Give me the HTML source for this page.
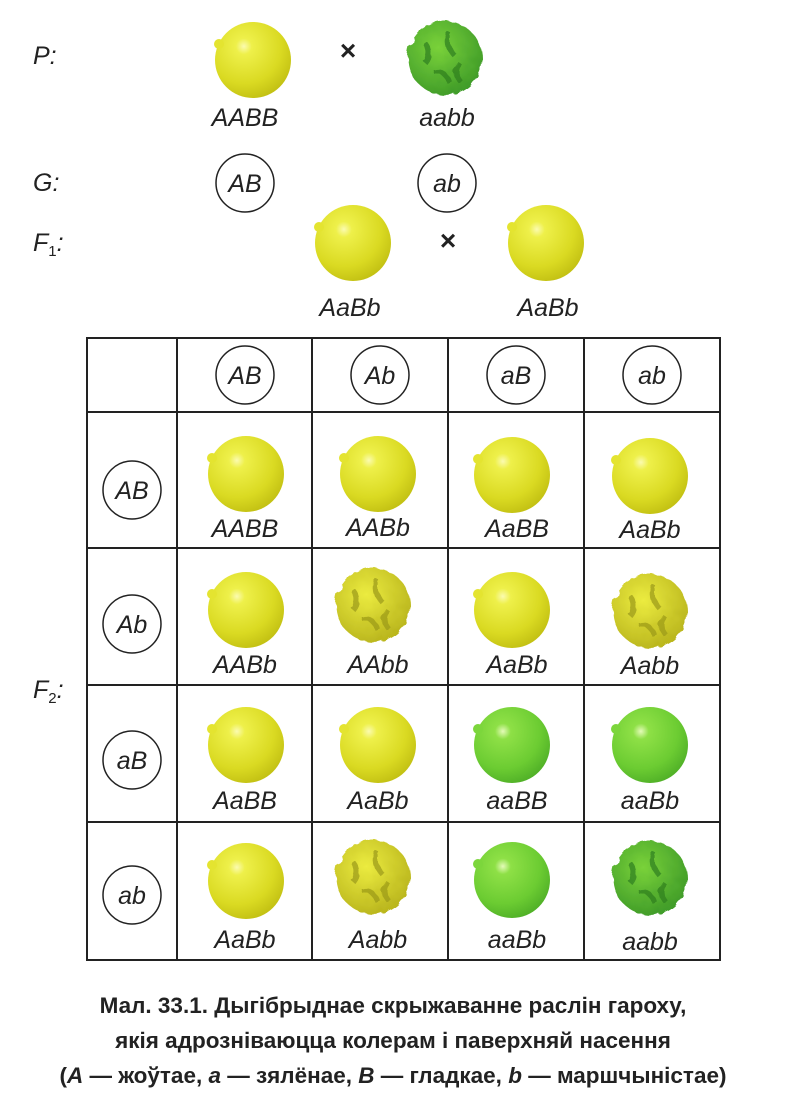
<!DOCTYPE html>
<html><head><meta charset="utf-8"><style>
html,body{margin:0;padding:0;background:#fff;}
svg{display:block}
text{font-family:"Liberation Sans",sans-serif;}
.l{font-style:italic;font-size:25px;fill:#222;text-anchor:middle}
.cap{font-family:"Liberation Sans Narrow","Liberation Sans",sans-serif;font-weight:bold;font-size:22.5px;fill:#222;text-anchor:middle}
</style></head><body>
<svg width="786" height="1109" viewBox="0 0 786 1109" xmlns="http://www.w3.org/2000/svg">
<defs>
<radialGradient id="ys" cx="0.38" cy="0.32" r="0.7">
<stop offset="0" stop-color="#fbfbb0"/><stop offset="0.15" stop-color="#eef04a"/><stop offset="0.7" stop-color="#dada22"/><stop offset="1" stop-color="#c4c214"/></radialGradient>
<radialGradient id="gs" cx="0.38" cy="0.32" r="0.7">
<stop offset="0" stop-color="#e4fbb8"/><stop offset="0.15" stop-color="#8ee046"/><stop offset="0.7" stop-color="#6ccc32"/><stop offset="1" stop-color="#52b228"/></radialGradient>
<radialGradient id="yw" cx="0.4" cy="0.35" r="0.7">
<stop offset="0" stop-color="#ecec40"/><stop offset="1" stop-color="#b8b41c"/></radialGradient>
<radialGradient id="gw" cx="0.4" cy="0.35" r="0.7">
<stop offset="0" stop-color="#7ad23a"/><stop offset="1" stop-color="#3e9a28"/></radialGradient>
<filter id="wr" x="-20%" y="-20%" width="140%" height="140%">
<feTurbulence type="fractalNoise" baseFrequency="0.09" numOctaves="2" seed="3" result="n"/>
<feDisplacementMap in="SourceGraphic" in2="n" scale="7"/>
</filter>
<g id="Y"><circle r="38" fill="url(#ys)"/><circle cx="-34" cy="-16" r="5" fill="#e4e430"/></g>
<g id="G"><circle r="38" fill="url(#gs)"/><circle cx="-34" cy="-16" r="5" fill="#7cd63c"/></g>
<g id="YW"><g filter="url(#wr)"><circle r="37" fill="url(#yw)"/><path d="M-20 -15 q8 10 0 20 M5 -25 q-6 12 4 22 M15 5 q-8 10 2 20 M-10 15 q10 -3 15 10" stroke="#9a9818" stroke-width="5" fill="none" opacity="0.7"/></g></g>
<g id="GW"><g filter="url(#wr)"><circle r="37" fill="url(#gw)"/><path d="M-20 -15 q8 10 0 20 M5 -25 q-6 12 4 22 M15 5 q-8 10 2 20 M-10 15 q10 -3 15 10" stroke="#2e7e20" stroke-width="5" fill="none" opacity="0.7"/></g></g>
</defs>

<text x="33" y="64" class="l" style="text-anchor:start">P:</text>
<use href="#Y" x="253" y="60"/>
<text x="348" y="60" font-size="28" font-weight="bold" text-anchor="middle" fill="#222">×</text>
<use href="#GW" x="445" y="58"/>
<text x="245" y="126" class="l">AABB</text>
<text x="447" y="126" class="l">aabb</text>

<text x="33" y="191" class="l" style="text-anchor:start">G:</text>
<circle cx="245" cy="183" r="29" fill="none" stroke="#222" stroke-width="1.5"/>
<text x="245" y="192" class="l">AB</text>
<circle cx="447" cy="183" r="29" fill="none" stroke="#222" stroke-width="1.5"/>
<text x="447" y="192" class="l">ab</text>

<text x="33" y="251" class="l" style="text-anchor:start">F<tspan font-size="15" dy="5" font-style="normal">1</tspan><tspan dy="-5">:</tspan></text>
<use href="#Y" x="353" y="243"/>
<text x="448" y="250" font-size="28" font-weight="bold" text-anchor="middle" fill="#222">×</text>
<use href="#Y" x="546" y="243"/>
<text x="350" y="316" class="l">AaBb</text>
<text x="548" y="316" class="l">AaBb</text>

<text x="33" y="698" class="l" style="text-anchor:start">F<tspan font-size="15" dy="5" font-style="normal">2</tspan><tspan dy="-5">:</tspan></text>

<g stroke="#222" stroke-width="2" fill="none">
<rect x="87" y="338" width="633" height="622"/>
<line x1="177" y1="338" x2="177" y2="960"/>
<line x1="312" y1="338" x2="312" y2="960"/>
<line x1="448" y1="338" x2="448" y2="960"/>
<line x1="584" y1="338" x2="584" y2="960"/>
<line x1="87" y1="412" x2="720" y2="412"/>
<line x1="87" y1="548" x2="720" y2="548"/>
<line x1="87" y1="685" x2="720" y2="685"/>
<line x1="87" y1="822" x2="720" y2="822"/>
</g>
<g fill="none" stroke="#222" stroke-width="1.5">
<circle cx="245" cy="375" r="29"/><circle cx="380" cy="375" r="29"/><circle cx="516" cy="375" r="29"/><circle cx="652" cy="375" r="29"/>
<circle cx="132" cy="490" r="29"/><circle cx="132" cy="624" r="29"/><circle cx="132" cy="760" r="29"/><circle cx="132" cy="895" r="29"/>
</g>
<text x="245" y="384" class="l">AB</text><text x="380" y="384" class="l">Ab</text><text x="516" y="384" class="l">aB</text><text x="652" y="384" class="l">ab</text>
<text x="132" y="499" class="l">AB</text><text x="132" y="633" class="l">Ab</text><text x="132" y="769" class="l">aB</text><text x="132" y="904" class="l">ab</text>

<use href="#Y" x="246" y="474"/><use href="#Y" x="378" y="474"/><use href="#Y" x="512" y="475"/><use href="#Y" x="650" y="476"/>
<text x="245" y="537" class="l">AABB</text><text x="378" y="536" class="l">AABb</text><text x="517" y="537" class="l">AaBB</text><text x="650" y="538" class="l">AaBb</text>
<use href="#Y" x="246" y="610"/><use href="#YW" x="373" y="605"/><use href="#Y" x="512" y="610"/><use href="#YW" x="650" y="611"/>
<text x="245" y="673" class="l">AABb</text><text x="378" y="673" class="l">AAbb</text><text x="517" y="673" class="l">AaBb</text><text x="650" y="674" class="l">Aabb</text>
<use href="#Y" x="246" y="745"/><use href="#Y" x="378" y="745"/><use href="#G" x="512" y="745"/><use href="#G" x="650" y="745"/>
<text x="245" y="809" class="l">AaBB</text><text x="378" y="809" class="l">AaBb</text><text x="517" y="809" class="l">aaBB</text><text x="650" y="809" class="l">aaBb</text>
<use href="#Y" x="246" y="881"/><use href="#YW" x="373" y="877"/><use href="#G" x="512" y="880"/><use href="#GW" x="650" y="878"/>
<text x="245" y="948" class="l">AaBb</text><text x="378" y="948" class="l">Aabb</text><text x="517" y="948" class="l">aaBb</text><text x="650" y="950" class="l">aabb</text>

<text x="393" y="1013" class="cap">Мал. 33.1. Дыгібрыднае скрыжаванне раслін гароху,</text>
<text x="393" y="1048" class="cap">якія адрозніваюцца колерам і паверхняй насення</text>
<text x="393" y="1083" class="cap">(<tspan font-style="italic">A</tspan> — жоўтае, <tspan font-style="italic">a</tspan> — зялёнае, <tspan font-style="italic">B</tspan> — гладкае, <tspan font-style="italic">b</tspan> — маршчыністае)</text>
</svg>
</body></html>
